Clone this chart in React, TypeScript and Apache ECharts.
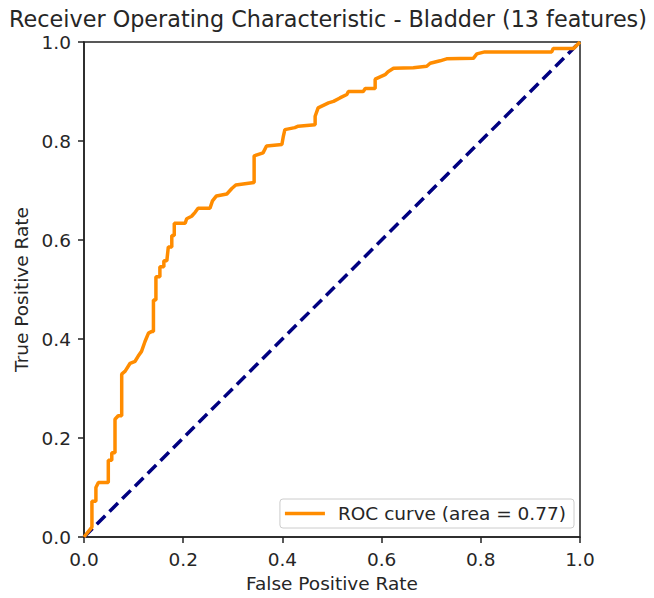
import React, { useEffect, useRef } from "react";
import * as echarts from "echarts";

const titleText = "Receiver Operating Characteristic - Bladder (13 features)";
const xName = "False Positive Rate";
const yName = "True Positive Rate";
const legendName = "ROC curve (area = 0.77)";

const fpr = [
  0, 0.016, 0.016, 0.024, 0.024, 0.029, 0.049, 0.049, 0.056, 0.056, 0.0625, 0.0625, 0.069, 0.076, 0.076,
  0.083, 0.093, 0.103, 0.109, 0.116, 0.123, 0.130, 0.136, 0.140, 0.140, 0.145, 0.145, 0.153, 0.153, 0.161,
  0.161, 0.167, 0.170, 0.177, 0.177, 0.182, 0.182, 0.204, 0.207, 0.217, 0.224, 0.230, 0.254, 0.259, 0.267,
  0.288, 0.298, 0.306, 0.343, 0.343, 0.361, 0.368, 0.399, 0.402, 0.405, 0.425, 0.432, 0.466, 0.466, 0.472,
  0.493, 0.503, 0.516, 0.530, 0.533, 0.563, 0.567, 0.587, 0.587, 0.607, 0.613, 0.624, 0.664, 0.691, 0.698,
  0.718, 0.731, 0.785, 0.792, 0.808, 0.943, 0.946, 0.987, 1.0,
];
const tpr = [
  0, 0.02, 0.072, 0.072, 0.10, 0.11, 0.11, 0.155, 0.155, 0.17, 0.17, 0.238, 0.245, 0.245, 0.329,
  0.335, 0.351, 0.355, 0.365, 0.375, 0.395, 0.412, 0.415, 0.415, 0.479, 0.479, 0.526, 0.526, 0.546, 0.546,
  0.558, 0.558, 0.586, 0.586, 0.609, 0.609, 0.634, 0.634, 0.643, 0.648, 0.656, 0.664, 0.664, 0.679, 0.689,
  0.693, 0.704, 0.711, 0.716, 0.770, 0.776, 0.790, 0.793, 0.810, 0.823, 0.827, 0.830, 0.833, 0.850, 0.867,
  0.877, 0.880, 0.887, 0.894, 0.900, 0.900, 0.906, 0.906, 0.925, 0.934, 0.940, 0.947, 0.948, 0.951, 0.957,
  0.962, 0.966, 0.967, 0.976, 0.980, 0.980, 0.987, 0.987, 1.0,
];
const chanceX = [0, 1];
const chanceY = [0, 1];

const FONT = "DejaVu Sans";
const TEXT = "#262626";

export default function App() {
  const ref = useRef<HTMLDivElement>(null);
  useEffect(() => {
    if (!ref.current) return;
    const chart = echarts.init(ref.current, null, { renderer: "svg" });
    const axisCommon = {
      type: "value" as const,
      min: 0,
      max: 1,
      interval: 0.2,
      nameLocation: "middle" as const,
      nameTextStyle: { fontFamily: FONT, fontSize: 18.5, color: TEXT },
      axisLine: { show: true, lineStyle: { color: "#222", width: 1.5 } },
      axisTick: { show: true, length: 6, lineStyle: { color: "#222", width: 1.5 } },
      axisLabel: {
        fontFamily: FONT,
        fontSize: 18.5,
        lineHeight: 18,
        color: TEXT,
        formatter: (v: number) => v.toFixed(1),
      },
      splitLine: { show: false },
    };
    chart.setOption({
      animation: false,
      backgroundColor: "#fff",
      title: {
        text: titleText,
        left: 328,
        textAlign: "center",
        top: 8,
        padding: 0,
        textStyle: { fontFamily: FONT, fontSize: 22.3, lineHeight: 22, fontWeight: "normal", color: TEXT },
      },
      grid: {
        left: 84,
        right: 74,
        top: 42,
        bottom: 54,
        show: true,
        borderColor: "#222",
        borderWidth: 1.5,
        backgroundColor: "transparent",
      },
      xAxis: {
        ...axisCommon,
        name: xName,
        nameGap: 37,
        axisLabel: { ...axisCommon.axisLabel, margin: 13 },
      },
      yAxis: {
        ...axisCommon,
        name: yName,
        nameGap: 52,
        axisLabel: { ...axisCommon.axisLabel, margin: 13 },
      },
      legend: {
        show: true,
        data: [legendName],
        right: 80,
        bottom: 70,
        orient: "vertical",
        itemWidth: 40,
        itemHeight: 3.5,
        itemGap: 0,
        padding: [5, 8, 5, 5],
        backgroundColor: "#fff",
        borderColor: "#cccccc",
        borderWidth: 1,
        borderRadius: 3,
        textStyle: { fontFamily: FONT, fontSize: 18.5, color: TEXT, padding: [0, 0, 0, 8] },
        icon: "rect",
      },
      series: [
        {
          name: legendName,
          type: "line",
          data: fpr.map((x, i) => [x, tpr[i]]),
          symbol: "none",
          lineStyle: { color: "#ff8c00", width: 3.5 },
          itemStyle: { color: "#ff8c00" },
          z: 3,
        },
        {
          name: "chance",
          type: "line",
          data: chanceX.map((x, i) => [x, chanceY[i]]),
          symbol: "none",
          lineStyle: { color: "#000080", width: 3.5, type: [12, 6] },
          itemStyle: { color: "#000080" },
          z: 2,
        },
      ],
    });
    return () => chart.dispose();
  }, []);
  return <div ref={ref} style={{ width: 654, height: 598, position: "absolute", left: 0, top: 0 }} />;
}
